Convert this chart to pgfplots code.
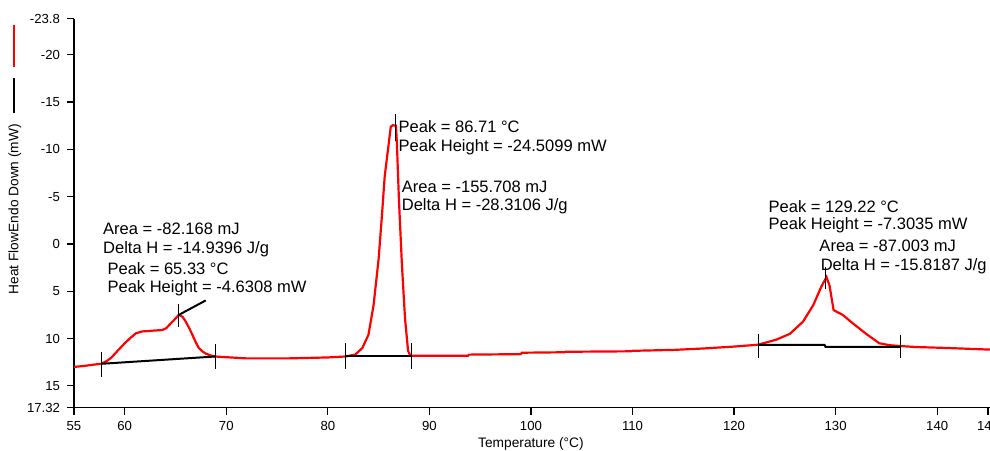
\documentclass[border=0pt]{standalone}
\usepackage{fontspec}
\setmainfont{Liberation Sans}
\usepackage{pgfplots}
\pgfplotsset{compat=1.18}
\begin{document}
\begin{tikzpicture}
\begin{axis}[
  x=5.1pt, y=4.75pt,
  y dir=reverse,
  xmin=55, xmax=145.2, ymin=-23.8, ymax=17.32,
  axis x line*=bottom, axis y line*=left,
  axis line style={black, line width=0.6pt},
  tick align=outside,
  major tick length=3.5pt,
  tick style={black, line width=0.6pt},
  xtick={55,60,70,80,90,100,110,120,130,140,145},
  xticklabels={55,60,70,80,90,100,110,120,130,140,145},
  ytick={-23.8,-20,-15,-10,-5,0,5,10,15,17.32},
  yticklabels={-23.8,-20,-15,-10,-5,0,5,10,15,17.32},
  ticklabel style={font=\fontsize{6.6}{7.5}\selectfont},
  clip=false,
]
% main DSC curve
\addplot[red, line width=1.1pt] coordinates {
(55,13.0) (56,12.9) (57,12.75) (57.7,12.67) (58.2,12.4) (58.7,12.0) (59.3,11.3)
(60.0,10.5) (60.6,9.9) (61.1,9.45) (61.7,9.25) (62.4,9.2) (63.0,9.15) (63.7,9.1)
(64.1,8.9) (64.4,8.55) (64.9,8.0) (65.33,7.5) (65.7,7.7) (66.0,8.2) (66.4,9.0)
(66.7,9.7) (67.0,10.4) (67.3,11.0) (67.7,11.4) (68.0,11.6) (68.5,11.8) (68.9,11.9)
(72,12.1) (76,12.1) (80,12.0) (81.7,11.9) (82.7,11.7) (83.4,11.0) (84.0,9.6)
(84.5,6.5) (85.0,1.6) (85.3,-2.6) (85.6,-7.15) (86.0,-10.65) (86.2,-12.4)
(86.4,-12.55) (86.71,-12.5) (86.8,-10.65) (87.0,-4.7) (87.3,2.3) (87.6,7.85)
(87.9,11.3) (88.1,11.76) (88.25,11.82) (93.8,11.82) (93.9,11.7) (99.0,11.65)
(99.1,11.5) (103.3,11.45) (103.4,11.4) (109.8,11.35) (110,11.3) (114.1,11.2)
(117.0,11.05) (120.0,10.85) (122.4,10.65) (124.2,10.1) (125.5,9.5) (126.8,8.2)
(127.8,6.46) (128.6,4.5) (129.1,3.5) (129.4,4.4) (129.8,7.0) (130.7,7.5)
(131.7,8.4) (133.0,9.5) (134.3,10.5) (135.3,10.7) (136.4,10.8) (138,10.9)
(141,11.0) (145.2,11.17)
};
% baselines
\addplot[black, line width=1pt] coordinates {(57.7,12.67) (68.9,11.9)};
\addplot[black, line width=1pt] coordinates {(81.73,11.86) (88.25,11.86)};
\addplot[black, line width=1pt] coordinates {(122.4,10.66) (128.9,10.66) (129.0,10.87) (136.4,10.87)};
% limit and peak markers
\addplot[black, line width=0.5pt] coordinates {(57.7,11.47) (57.7,14.03)};
\addplot[black, line width=0.5pt] coordinates {(68.9,10.6) (68.9,13.23)};
\addplot[black, line width=0.5pt] coordinates {(65.33,6.3) (65.33,8.77)};
\addplot[black, line width=1pt] coordinates {(65.33,7.5) (67.98,5.97)};
\addplot[black, line width=0.5pt] coordinates {(81.73,10.5) (81.73,13.2)};
\addplot[black, line width=0.5pt] coordinates {(88.25,10.5) (88.25,13.2)};
\addplot[black, line width=0.5pt] coordinates {(86.71,-13.7) (86.71,-10.9)};
\addplot[black, line width=0.5pt] coordinates {(122.4,9.47) (122.4,12.03)};
\addplot[black, line width=0.5pt] coordinates {(136.4,9.58) (136.4,12.1)};
\addplot[black, line width=0.5pt] coordinates {(129.0,2.45) (129.0,4.74)};
% legend strokes beside y label
\addplot[red, line width=1pt] coordinates {(49.09,-23.16) (49.09,-18.74)};
\addplot[black, line width=0.6pt] coordinates {(49.09,-17.58) (49.09,-13.8)};
% labels
\node[rotate=90, font=\fontsize{6.9}{8}\selectfont, inner sep=0pt] at (axis cs:49.19,-3.68) {Heat FlowEndo Down (mW)};
\node[font=\fontsize{6.9}{8}\selectfont, inner sep=0pt] at (axis cs:100,21.1) {Temperature (°C)};
% annotations
\begin{scope}[every node/.style={anchor=west, inner sep=0pt, font=\fontsize{8.3}{10}\selectfont}]
\node at (axis cs:57.84,-1.58) {Area = -82.168 mJ};
\node at (axis cs:57.84,0.53) {Delta H = -14.9396 J/g};
\node at (axis cs:58.27,2.63) {Peak = 65.33 °C};
\node at (axis cs:58.27,4.66) {Peak Height = -4.6308 mW};
\node at (axis cs:86.93,-12.39) {Peak = 86.71 °C};
\node at (axis cs:86.93,-10.18) {Peak Height = -24.5099 mW};
\node at (axis cs:87.25,-6.07) {Area = -155.708 mJ};
\node at (axis cs:87.25,-3.97) {Delta H = -28.3106 J/g};
\node at (axis cs:123.37,-3.97) {Peak = 129.22 °C};
\node at (axis cs:123.37,-1.93) {Peak Height = -7.3035 mW};
\node at (axis cs:128.37,0.18) {Area = -87.003 mJ};
\node at (axis cs:128.5,2.35) {Delta H = -15.8187 J/g};
\end{scope}
\coordinate (bbA) at (axis cs:47.72,-25.79);
\coordinate (bbB) at (axis cs:145.2,21.79);
\end{axis}
\pgfresetboundingbox
\path[use as bounding box] (bbA) rectangle (bbB);
\end{tikzpicture}
\end{document}
